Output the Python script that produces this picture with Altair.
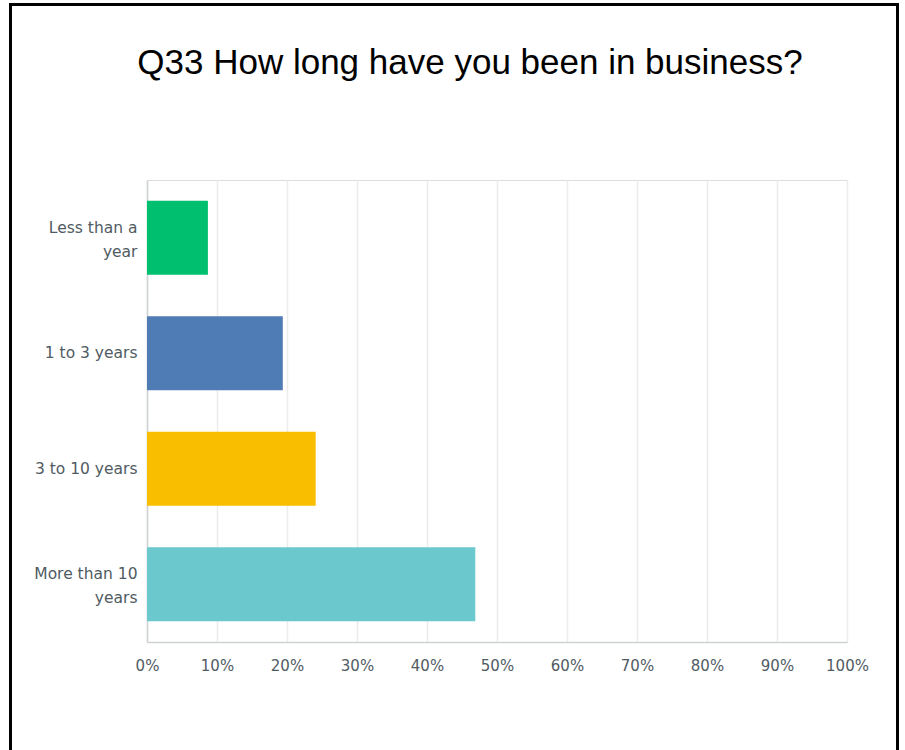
import altair as alt
import pandas as pd

categories = ["Less than a year", "1 to 3 years", "3 to 10 years", "More than 10 years"]
values = [0.087, 0.194, 0.241, 0.469]
colors = ["#00bf6f", "#507cb6", "#f9be00", "#6bc8cd"]
x_ticks = [0, 0.1, 0.2, 0.3, 0.4, 0.5, 0.6, 0.7, 0.8, 0.9, 1.0]

df = pd.DataFrame({"category": categories, "value": values})

label_expr = ("datum.label == 'Less than a year' ? ['Less than a', 'year'] : "
              "datum.label == 'More than 10 years' ? ['More than 10', 'years'] : datum.label")
two_line = "datum.value == 'Less than a year' || datum.value == 'More than 10 years'"

label_font = "DejaVu Sans"
label_color = "#505b63"

bars = alt.Chart(df).mark_bar(size=74).encode(
    y=alt.Y("category:N", sort=categories, title=None,
            scale=alt.Scale(paddingInner=0.36, paddingOuter=0.18),
            axis=alt.Axis(labelExpr=label_expr, ticks=False, domain=True,
                          domainColor="#cfd2d4", domainWidth=1.5,
                          labelOffset={"condition": {"test": two_line, "value": -10}, "value": 0},
                          labelPadding=10, labelFontSize=15.5, labelColor=label_color,
                          labelFont=label_font, labelLineHeight=24, grid=False)),
    x=alt.X("value:Q", title=None,
            scale=alt.Scale(domain=[0, 1], nice=False),
            axis=alt.Axis(format="%", values=x_ticks, ticks=False, labelFlush=False,
                          domainColor="#cfd2d4", domainWidth=1.5,
                          gridColor="#ececec", gridWidth=1.5,
                          labelPadding=16, labelFontSize=15, labelColor=label_color,
                          labelFont=label_font)),
    color=alt.Color("category:N", scale=alt.Scale(domain=categories, range=colors), legend=None),
)

frame = alt.Chart(df).mark_rect(fill=None, stroke="#000000", strokeWidth=3).encode(
    x=alt.value(-136.5), x2=alt.value(750.5), y=alt.value(-175.5), y2=alt.value(620)
)

chart = alt.layer(frame, bars).properties(
    width=700, height=462,
    padding={"left": 147, "top": 180, "right": 58, "bottom": 108},
    autosize=alt.AutoSizeParams(type="none"),
    title=alt.TitleParams("Q33 How long have you been in business?", font="Liberation Sans",
                          fontSize=35, fontWeight="normal", color="#000000",
                          anchor="middle", frame="group", dx=-27, dy=106, offset=0,
                          baseline="alphabetic"),
).configure_view(stroke=None).configure(background="white")

chart.save("out.html", embed_options={"renderer": "svg", "actions": False})
